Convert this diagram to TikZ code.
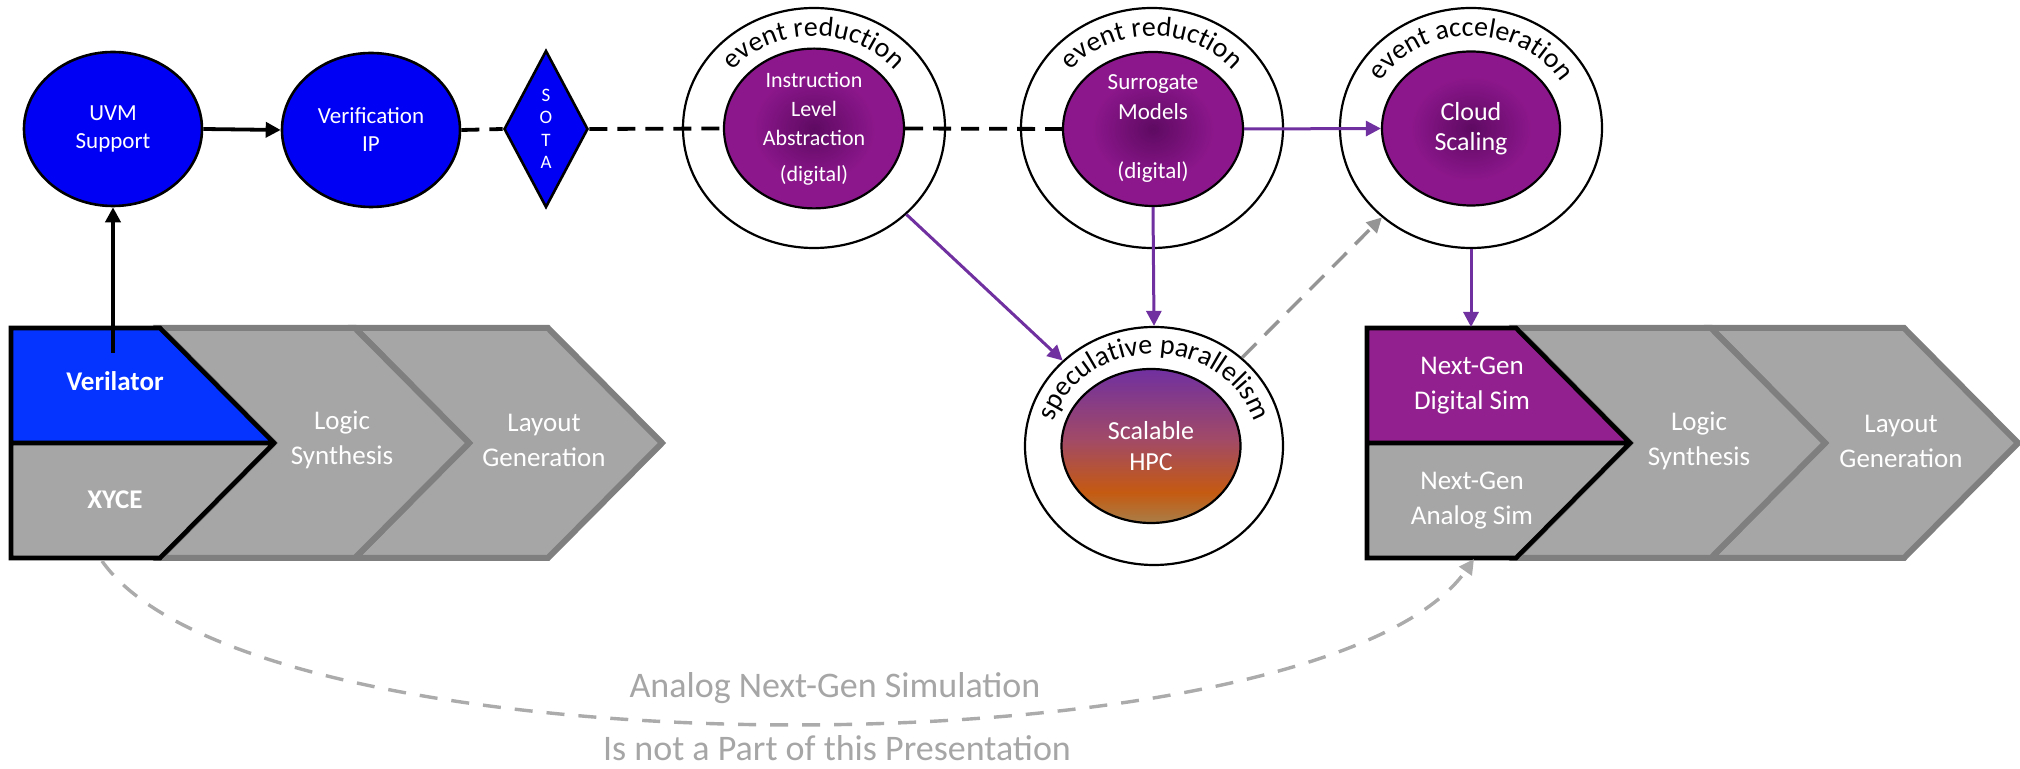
\documentclass[tikz,border=0pt]{standalone}
\usepackage{fontspec}
\setmainfont{Carlito}
\usetikzlibrary{shapes.geometric,arrows.meta,decorations.text}

\definecolor{ballblue}{HTML}{0000F5}
\definecolor{vblue}{HTML}{0533FF}
\definecolor{coreedge}{HTML}{8C178C}
\definecolor{corecen}{HTML}{5E0A62}
\definecolor{flowpurple}{HTML}{7030A0}
\definecolor{ngpurple}{HTML}{93208F}
\definecolor{chevgray}{HTML}{A6A6A6}
\definecolor{chevedge}{HTML}{7F7F7F}
\definecolor{hinttext}{HTML}{A6A6A6}
\definecolor{dashgray}{HTML}{959595}
\definecolor{curvegray}{HTML}{ABABAB}
\definecolor{hpctop}{HTML}{7030A0}
\definecolor{hpcmid}{HTML}{A24A66}
\definecolor{hpcorange}{HTML}{C55A11}
\definecolor{hpcbot}{HTML}{A97E48}

% purple cores: dark centre fading to the rim colour
\pgfdeclareradialshading{coreshade}{\pgfpoint{0bp}{0bp}}{color(0bp)=(corecen); color(17bp)=(coreedge); color(50bp)=(coreedge)}
% HPC core: purple top, orange band, tan bottom
\pgfdeclareverticalshading{hpcshade}{100bp}{color(0bp)=(hpcbot); color(25bp)=(hpcbot); color(35bp)=(hpcorange); color(52bp)=(hpcmid); color(75bp)=(hpctop); color(100bp)=(hpctop)}

\newcommand\tsz[2]{\fontsize{#1}{#2}\selectfont}

% curved caption inside a ring
\newcommand\ringlabel[3]{%
  \path[decorate, decoration={text along path, text align=center,
      text={|\tsz{14}{16}|#3}}]
    (#1,#2) ++(200:52pt and 46pt)
    arc[start angle=200, end angle=-20, x radius=52pt, y radius=46pt];}

\begin{document}
\begin{tikzpicture}[x=0.5pt, y=0.5pt,
  ball/.style={ellipse, draw=black, line width=1.3pt, fill=ballblue,
    minimum width=89pt, minimum height=77pt, inner sep=0pt,
    text=white, align=center, font=\tsz{11.5}{14}},
  ring/.style={ellipse, draw=black, line width=1.1pt, fill=white,
    minimum width=131pt, minimum height=120pt, inner sep=0pt},
  core/.style={ellipse, draw=black, line width=1.1pt, shading=coreshade,
    minimum width=90pt, minimum height=77pt, inner sep=0pt,
    text=white, align=center},
  tip/.style={-{Triangle[length=7.5pt,width=7.5pt]}},
  flow/.style={draw=flowpurple, line width=1.5pt, tip},
  blackflow/.style={draw=black, line width=1.9pt, tip},
  sotadash/.style={draw=black, line width=1.9pt, dash pattern=on 9pt off 5pt},
  grayflow/.style={draw=dashgray, line width=1.7pt, dash pattern=on 10pt off 6pt, tip},
  curveflow/.style={draw=curvegray, line width=1.7pt, dash pattern=on 9pt off 7pt, tip},
  chev/.style={fill=chevgray, draw=chevedge, line width=3pt, line join=miter},
  frame/.style={draw=black, line width=2.3pt, line join=miter},
  chevtxt/.style={text=white, align=center, font=\tsz{13.5}{17.5}},
  note/.style={text=hinttext, font=\tsz{18}{20}, inner sep=0pt}
]
\useasboundingbox (0,0) rectangle (2020,-769);

% ---------- left tool chain ----------
\path[chev] (355,-328) -- (548,-328) -- (662,-443) -- (548,-558) -- (355,-558) -- (469,-443) -- cycle;
\path[chev] (160,-328) -- (355,-328) -- (469,-443) -- (355,-558) -- (160,-558) -- (274,-443) -- cycle;
\fill[vblue] (11,-328) -- (160,-328) -- (274,-443) -- (11,-443) -- cycle;
\fill[chevgray] (11,-443) -- (274,-443) -- (160,-558) -- (11,-558) -- cycle;
\path[frame] (11,-328) -- (160,-328) -- (274,-443) -- (160,-558) -- (11,-558) -- cycle
  (11,-443) -- (274,-443);
\node[chevtxt, font=\tsz{13.5}{17.5}\bfseries] (verilator) at (115,-381) {Verilator};
\node[chevtxt, font=\tsz{13.5}{17.5}\bfseries] (xyce) at (115,-500) {XYCE};
\node[chevtxt] (ls1) at (342,-440) {Logic\\Synthesis};
\node[chevtxt] (lg1) at (544,-440) {Layout\\Generation};

% ---------- right tool chain ----------
\begin{scope}[xshift=678pt]
\path[chev] (355,-328) -- (548,-328) -- (662,-443) -- (548,-558) -- (355,-558) -- (469,-443) -- cycle;
\path[chev] (160,-328) -- (355,-328) -- (469,-443) -- (355,-558) -- (160,-558) -- (274,-443) -- cycle;
\fill[ngpurple] (11,-328) -- (160,-328) -- (274,-443) -- (11,-443) -- cycle;
\fill[chevgray] (11,-443) -- (274,-443) -- (160,-558) -- (11,-558) -- cycle;
\path[frame] (11,-328) -- (160,-328) -- (274,-443) -- (160,-558) -- (11,-558) -- cycle
  (11,-443) -- (274,-443);
\end{scope}
\node[chevtxt] (ngd) at (1472,-386) {Next-Gen\\Digital Sim};
\node[chevtxt] (nga) at (1472,-501) {Next-Gen\\Analog Sim};
\node[chevtxt] (ls2) at (1699,-441) {Logic\\Synthesis};
\node[chevtxt] (lg2) at (1901,-441) {Layout\\Generation};

% ---------- verification nodes ----------
\node[ball] (uvm) at (113,-129) {UVM\\Support};
\node[ball] (verif) at (371,-130) {Verification\\IP};
\node[diamond, draw=black, line width=1.3pt, fill=ballblue,
  minimum width=42pt, minimum height=78.5pt, inner sep=0pt] (sota) at (546,-129) {};
\node[text=white, font=\tsz{9.5}{11.2}, align=center] (sotatxt) at (sota.center) {S\\O\\T\\A};

% ---------- technique rings ----------
\node[ring] (e1) at (814,-128) {};
\node[ring] (e2) at (1152,-128) {};
\node[ring] (e3) at (1471,-128) {};
\node[ring, minimum width=129pt, minimum height=119pt] (spec) at (1154,-446) {};

\ringlabel{814}{-128}{event reduction}
\ringlabel{1152}{-128}{event reduction}
\ringlabel{1471}{-128}{event acceleration}
\ringlabel{1154}{-446}{speculative parallelism}

% ---------- cores ----------
\node[core, font=\tsz{11}{14.5}] (i1) at (814,-128.5) {Instruction\\Level\\Abstraction\\[3.5pt](digital)};
\node[core, font=\tsz{11.5}{15}] (i2) at (1153,-129) {Surrogate\\Models\\[14.5pt](digital)};
\node[core, minimum width=89pt, font=\tsz{13}{15}] (i3) at (1471,-128.5) {Cloud\\Scaling};
\node[core, shading=hpcshade, minimum width=89.5pt, font=\tsz{13}{15.5}] (hpc) at (1151,-446) {Scalable\\HPC};

% ---------- connectors ----------
\draw[blackflow] (uvm.east) -- (verif.west);
\draw[sotadash] (verif.east) -- (sota.west);
\draw[sotadash] (sota.east) -- (i1.west);
\draw[sotadash] (i1.east) -- (i2.west);
\draw[flow] (i2.east) -- (i3.west);
\draw[flow] (i2.south) -- (spec.north);
\draw[flow] (e1) -- (spec);
\draw[grayflow] (spec) -- (e3);
\coordinate (ngtop) at (1471,-327);
\draw[flow] (e3.south) -- (ngtop);
\coordinate (vtop) at (113,-353);
\draw[blackflow] (vtop) -- (uvm.south);

% ---------- analog path (out of scope) ----------
\coordinate (xyb) at (102,-561);
\coordinate (ngb) at (1474,-559);
\draw[curveflow] (xyb) .. controls (255,-779) and (1321,-777) .. (ngb);
\node[note] (note1) at (835,-688) {Analog Next-Gen Simulation};
\node[note] (note2) at (837,-748) {Is not a Part of this Presentation};
\end{tikzpicture}
\end{document}
